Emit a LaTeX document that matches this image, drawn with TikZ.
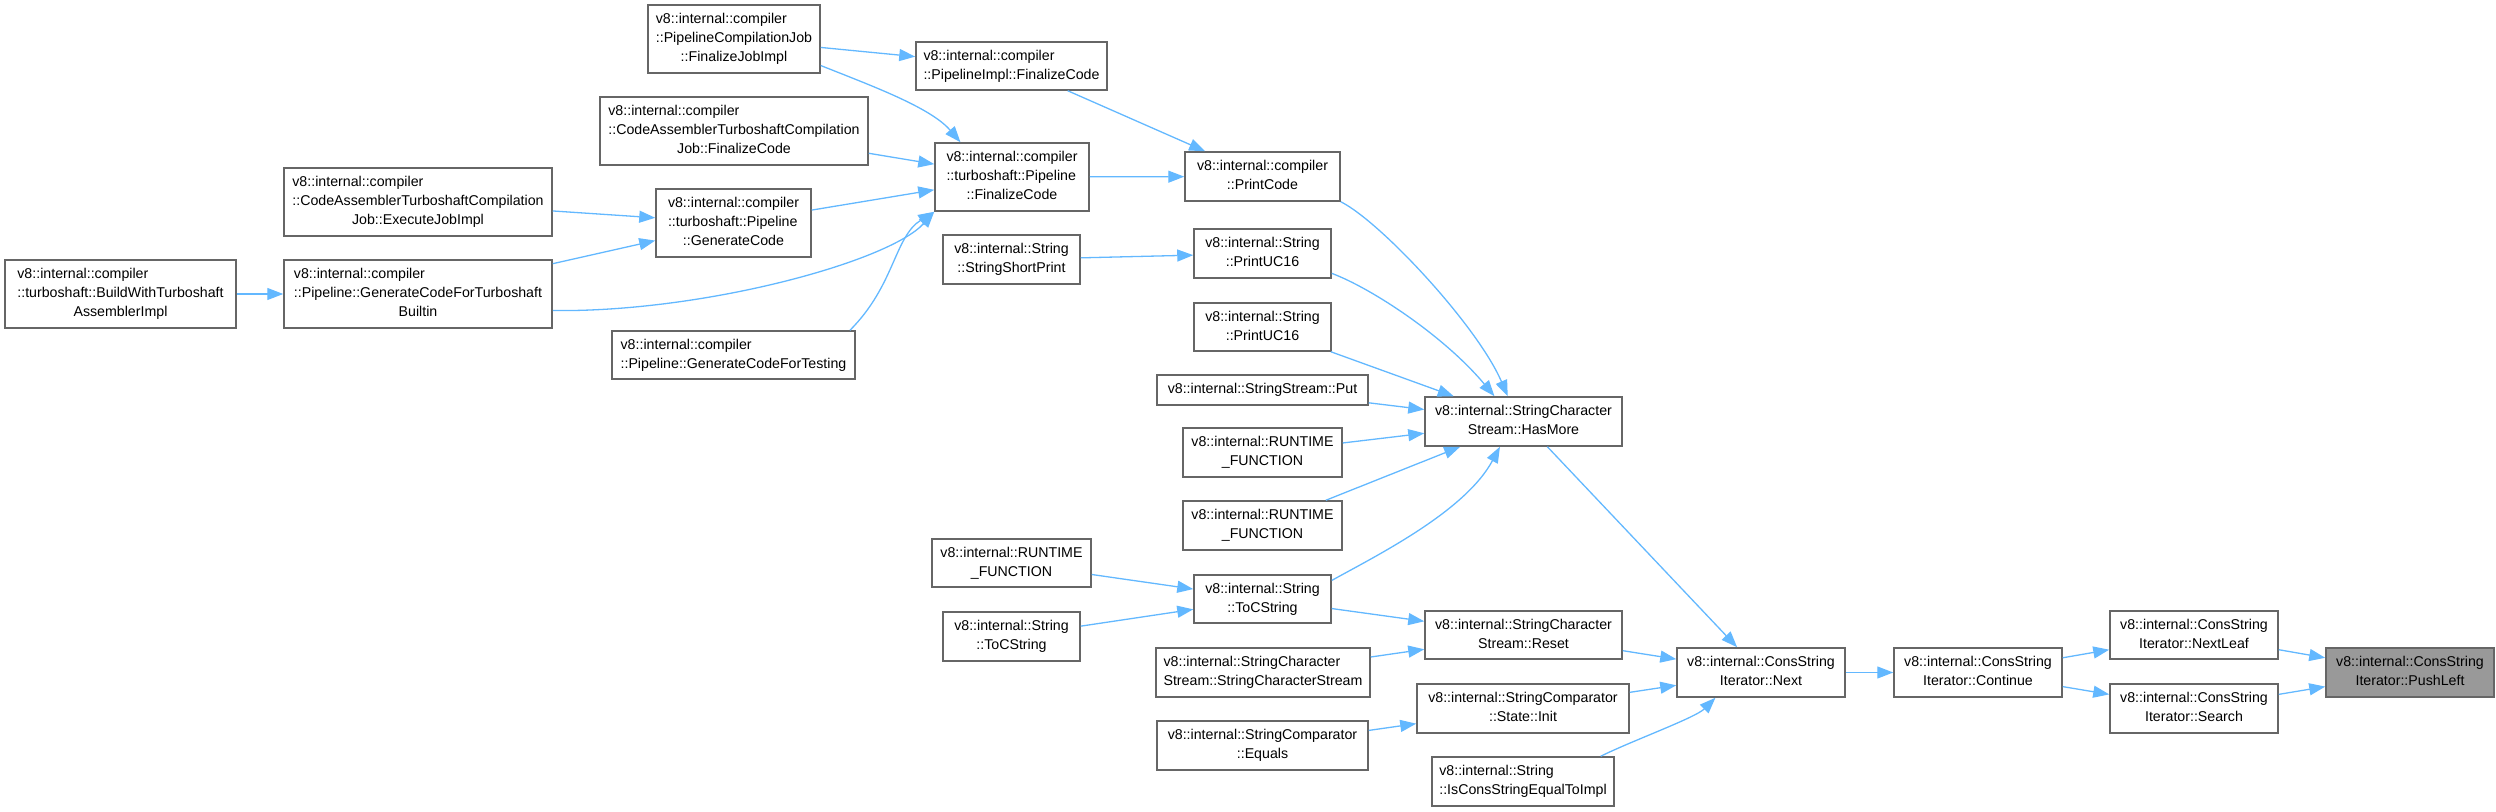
\documentclass[tikz,border=0pt]{standalone}
\usepackage{fontspec}
\setmainfont{Liberation Sans}
\usetikzlibrary{arrows.meta}
\definecolor{edgec}{HTML}{63B8FF}
\definecolor{bordc}{HTML}{666666}
\definecolor{hifill}{HTML}{999999}
\newcommand\boxlbl[1]{\begin{tabular}{@{}l@{}}#1\end{tabular}}
\newcommand\lastln[1]{\multicolumn{1}{@{}c@{}}{#1}}
\begin{document}
\begin{tikzpicture}[x=0.5pt,y=-0.5pt,
  fn/.style={draw=bordc, line width=0.75pt, fill=white, rectangle, inner sep=0pt,
    font=\fontsize{7.1}{9.5}\selectfont, text=black},
  hl/.style={fn, fill=hifill},
  sz/.style 2 args={minimum width=#1*0.5pt, minimum height=#2*0.5pt},
  edge/.style={draw=edgec, line width=0.65pt, -{Triangle[length=8pt,width=6pt]}}]
\useasboundingbox (0,0) rectangle (2496,812);

% column 1
\node[fn, sz={231}{68}] (build) at (120.5,294) {\boxlbl{v8::internal::compiler\\::turboshaft::BuildWithTurboshaft\\\lastln{AssemblerImpl}}};
% column 2
\node[fn, sz={268}{68}] (exec) at (418,202) {\boxlbl{v8::internal::compiler\\::CodeAssemblerTurboshaftCompilation\\\lastln{Job::ExecuteJobImpl}}};
\node[fn, sz={268}{68}] (gcftb) at (418,294) {\boxlbl{v8::internal::compiler\\::Pipeline::GenerateCodeForTurboshaft\\\lastln{Builtin}}};
% column 3
\node[fn, sz={172}{68}] (fji) at (734,39) {\boxlbl{v8::internal::compiler\\::PipelineCompilationJob\\\lastln{::FinalizeJobImpl}}};
\node[fn, sz={268}{68}] (catfin) at (734,131) {\boxlbl{v8::internal::compiler\\::CodeAssemblerTurboshaftCompilation\\\lastln{Job::FinalizeCode}}};
\node[fn, sz={155}{68}] (gencode) at (733.5,223) {\boxlbl{v8::internal::compiler\\::turboshaft::Pipeline\\\lastln{::GenerateCode}}};
\node[fn, sz={243}{48}] (gcft) at (733.5,355) {\boxlbl{v8::internal::compiler\\\lastln{::Pipeline::GenerateCodeForTesting}}};
% column 4
\node[fn, sz={191}{48}] (pimpl) at (1011.5,66) {\boxlbl{v8::internal::compiler\\\lastln{::PipelineImpl::FinalizeCode}}};
\node[fn, sz={154}{68}] (tsfin) at (1012,177) {\boxlbl{v8::internal::compiler\\::turboshaft::Pipeline\\\lastln{::FinalizeCode}}};
\node[fn, sz={137}{49}] (ssp) at (1011.5,259.5) {\boxlbl{v8::internal::String\\\lastln{::StringShortPrint}}};
\node[fn, sz={159}{48}] (rf3) at (1011.5,563) {\boxlbl{v8::internal::RUNTIME\\\lastln{\_FUNCTION}}};
\node[fn, sz={137}{49}] (tocsl) at (1011.5,636.5) {\boxlbl{v8::internal::String\\\lastln{::ToCString}}};
% column 5
\node[fn, sz={155}{49}] (printcode) at (1262.5,176.5) {\boxlbl{v8::internal::compiler\\\lastln{::PrintCode}}};
\node[fn, sz={137}{49}] (uc1) at (1262.5,253.5) {\boxlbl{v8::internal::String\\\lastln{::PrintUC16}}};
\node[fn, sz={137}{48}] (uc2) at (1262.5,327) {\boxlbl{v8::internal::String\\\lastln{::PrintUC16}}};
\node[fn, sz={211}{30}] (put) at (1262.5,390) {v8::internal::StringStream::Put};
\node[fn, sz={159}{49}] (rf1) at (1262.5,452.5) {\boxlbl{v8::internal::RUNTIME\\\lastln{\_FUNCTION}}};
\node[fn, sz={159}{49}] (rf2) at (1262.5,525.5) {\boxlbl{v8::internal::RUNTIME\\\lastln{\_FUNCTION}}};
\node[fn, sz={137}{48}] (tocsm) at (1262.5,599) {\boxlbl{v8::internal::String\\\lastln{::ToCString}}};
\node[fn, sz={214}{49}] (scs) at (1263,672.5) {\boxlbl{v8::internal::StringCharacter\\\lastln{Stream::StringCharacterStream}}};
\node[fn, sz={211}{49}] (equals) at (1262.5,745.5) {\boxlbl{v8::internal::StringComparator\\\lastln{::Equals}}};
% column 6
\node[fn, sz={197}{49}] (hasmore) at (1523.5,421.5) {\boxlbl{v8::internal::StringCharacter\\\lastln{Stream::HasMore}}};
\node[fn, sz={197}{48}] (reset) at (1523.5,635) {\boxlbl{v8::internal::StringCharacter\\\lastln{Stream::Reset}}};
\node[fn, sz={212}{49}] (init) at (1523,708.5) {\boxlbl{v8::internal::StringComparator\\\lastln{::State::Init}}};
\node[fn, sz={182}{49}] (icse) at (1523,781.5) {\boxlbl{v8::internal::String\\\lastln{::IsConsStringEqualToImpl}}};
% right columns
\node[fn, sz={168}{49}] (next) at (1761,672.5) {\boxlbl{v8::internal::ConsString\\\lastln{Iterator::Next}}};
\node[fn, sz={168}{49}] (cont) at (1978,672.5) {\boxlbl{v8::internal::ConsString\\\lastln{Iterator::Continue}}};
\node[fn, sz={168}{48}] (nextleaf) at (2194,635) {\boxlbl{v8::internal::ConsString\\\lastln{Iterator::NextLeaf}}};
\node[fn, sz={168}{49}] (search) at (2194,708.5) {\boxlbl{v8::internal::ConsString\\\lastln{Iterator::Search}}};
\node[hl, sz={168}{49}] (pushleft) at (2410,672.5) {\boxlbl{v8::internal::ConsString\\\lastln{Iterator::PushLeft}}};

% edges
\draw[edge] (build) -- (gcftb);
\draw[edge] (exec) -- (gencode);
\draw[edge] (gcftb) -- (gencode);
\draw[edge] (gcftb.-7) .. controls +(150,2) and +(-45,50) .. (tsfin.south west);
\draw[edge] (gcft.12.7) .. controls +(45,-45) and +(-40,25) .. (tsfin.south west);
\draw[edge] (gencode) -- (tsfin);
\draw[edge] (catfin) -- (tsfin);
\draw[edge] (fji) -- (pimpl);
\draw[edge] (fji.-17.4) .. controls +(50,20) and +(-30,-35) .. (tsfin.146.7);
\draw[edge] (pimpl) -- (printcode);
\draw[edge] (tsfin) -- (printcode);
\draw[edge] (ssp) -- (uc1);
\draw[edge] (printcode.south east) .. controls +(40,20) and +(-30,-70) .. (hasmore.122.3);
\draw[edge] (uc1.-16.7) .. controls +(40,15) and +(-50,-60) .. (hasmore.139.3);
\draw[edge] (uc2) -- (hasmore);
\draw[edge] (put) -- (hasmore);
\draw[edge] (rf1) -- (hasmore);
\draw[edge] (rf2) -- (hasmore);
\draw[edge] (tocsm.15.5) .. controls +(45,-25) and +(-35,65) .. (hasmore.-133.8);
\draw[edge] (rf3) -- (tocsm);
\draw[edge] (tocsl) -- (tocsm);
\draw[edge] (tocsm) -- (reset);
\draw[edge] (scs) -- (reset);
\draw[edge] (equals) -- (init);
\draw[edge] (hasmore) -- (next);
\draw[edge] (reset) -- (next);
\draw[edge] (init) -- (next);
\draw[edge] (icse.18.1) .. controls +(30,-15) and +(-20,20) .. (next.-151);
\draw[edge] (next) -- (cont);
\draw[edge] (cont) -- (nextleaf);
\draw[edge] (cont) -- (search);
\draw[edge] (nextleaf) -- (pushleft);
\draw[edge] (search) -- (pushleft);
\end{tikzpicture}
\end{document}
